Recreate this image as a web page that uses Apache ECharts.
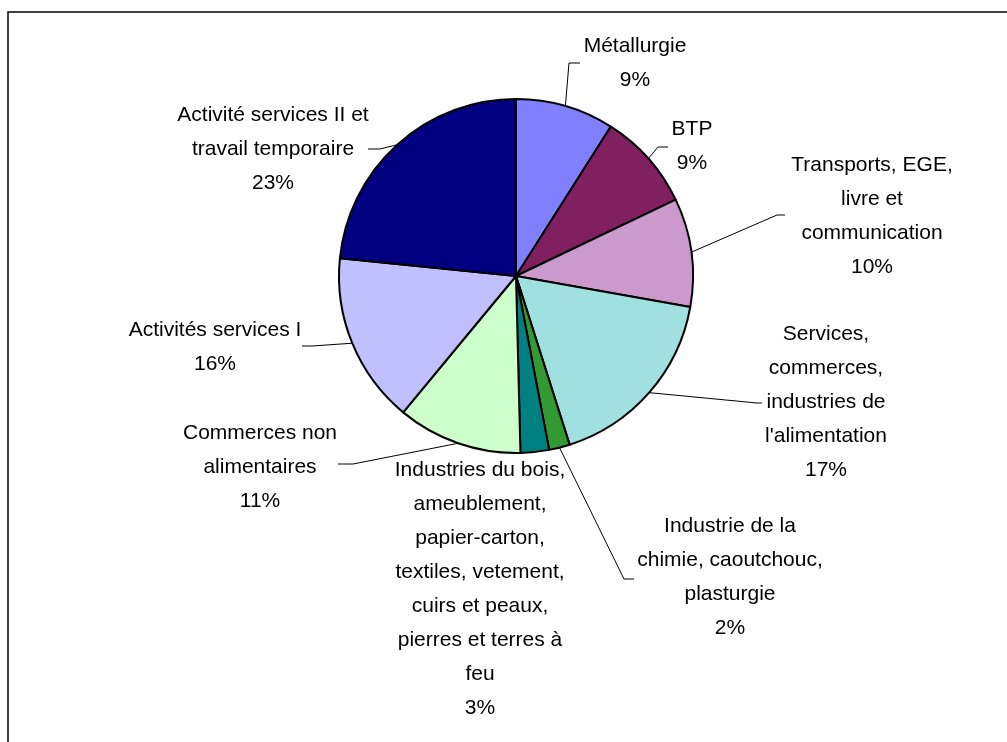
<!DOCTYPE html>
<html>
<head>
<meta charset="utf-8">
<script src="https://cdn.jsdelivr.net/npm/echarts@6/dist/echarts.min.js"></script>
<style>html,body{margin:0;padding:0;background:#fff;}#c{width:1007px;height:742px;}</style>
</head>
<body>
<div id="c"></div>
<script>
// ---- data ----
const categories = [
  'Métallurgie',
  'BTP',
  'Transports, EGE,\nlivre et\ncommunication',
  'Services,\ncommerces,\nindustries de\nl\'alimentation',
  'Industrie de la\nchimie, caoutchouc,\nplasturgie',
  'Industries du bois,\nameublement,\npapier-carton,\ntextiles, vetement,\ncuirs et peaux,\npierres et terres à\nfeu',
  'Commerces non\nalimentaires',
  'Activités services I',
  'Activité services II et\ntravail temporaire'
];
const values = [9.0, 8.9, 9.9, 17.3, 1.9, 2.6, 11.4, 15.6, 23.4];
const colors = ['#8080FF', '#802060', '#CC99CC', '#A0E0E0', '#339933', '#008080', '#CCFFCC', '#C0C0FF', '#000080'];

// ---- label layout (text block centres and leader-line elbows) ----
const labelCenter = [[635,63],[692,146],[872,216],[826,402],[730,577],[480,589],[260,467],[215,347],[273,149]];
const leaderElbow = [[[569,63],[580,63]],[[658,147],[668,147]],[[777,215],[785,215]],[[757,403],[762,403]],[[624,579],[634,579]],null,[[353,464],[338,464]],[[312,346],[302,346]],[[380,149],[368,149]]];

const chart = echarts.init(document.getElementById('c'), null, {renderer:'canvas'});
chart.setOption({
  animation: false,
  backgroundColor: '#fff',
  graphic: [{
    type: 'rect', shape: {x: 8, y: 12, width: 1010, height: 760},
    style: {fill: 'none', stroke: '#000', lineWidth: 1.5}, silent: true, z: -1
  }],
  series: [{
    type: 'pie',
    center: [516, 276],
    radius: 177,
    startAngle: 90,
    clockwise: true,
    avoidLabelOverlap: false,
    silent: true,
    data: categories.map((n, i) => ({
      name: n, value: values[i],
      itemStyle: {color: colors[i]},
      labelLine: {show: leaderElbow[i] !== null}
    })),
    itemStyle: {borderColor: '#000', borderWidth: 2},
    label: {
      show: true,
      position: 'outside',
      formatter: p => p.name + '\n' + Math.round(p.percent) + '%',
      fontFamily: 'Liberation Sans, Arial, sans-serif',
      fontSize: 21,
      lineHeight: 34,
      color: '#000',
      align: 'center'
    },
    labelLine: {show: true, lineStyle: {color: '#000', width: 1}, length: 10, length2: 10},
    labelLayout: function (params) {
      const i = params.dataIndex;
      const c = labelCenter[i];
      const out = {x: c[0], y: c[1], align: 'center', verticalAlign: 'middle'};
      if (leaderElbow[i] && params.labelLinePoints) {
        const p0 = params.labelLinePoints[0];
        out.labelLinePoints = [p0, leaderElbow[i][0], leaderElbow[i][1]];
      }
      return out;
    },
    emphasis: {disabled: true}
  }]
});
</script>
</body>
</html>
